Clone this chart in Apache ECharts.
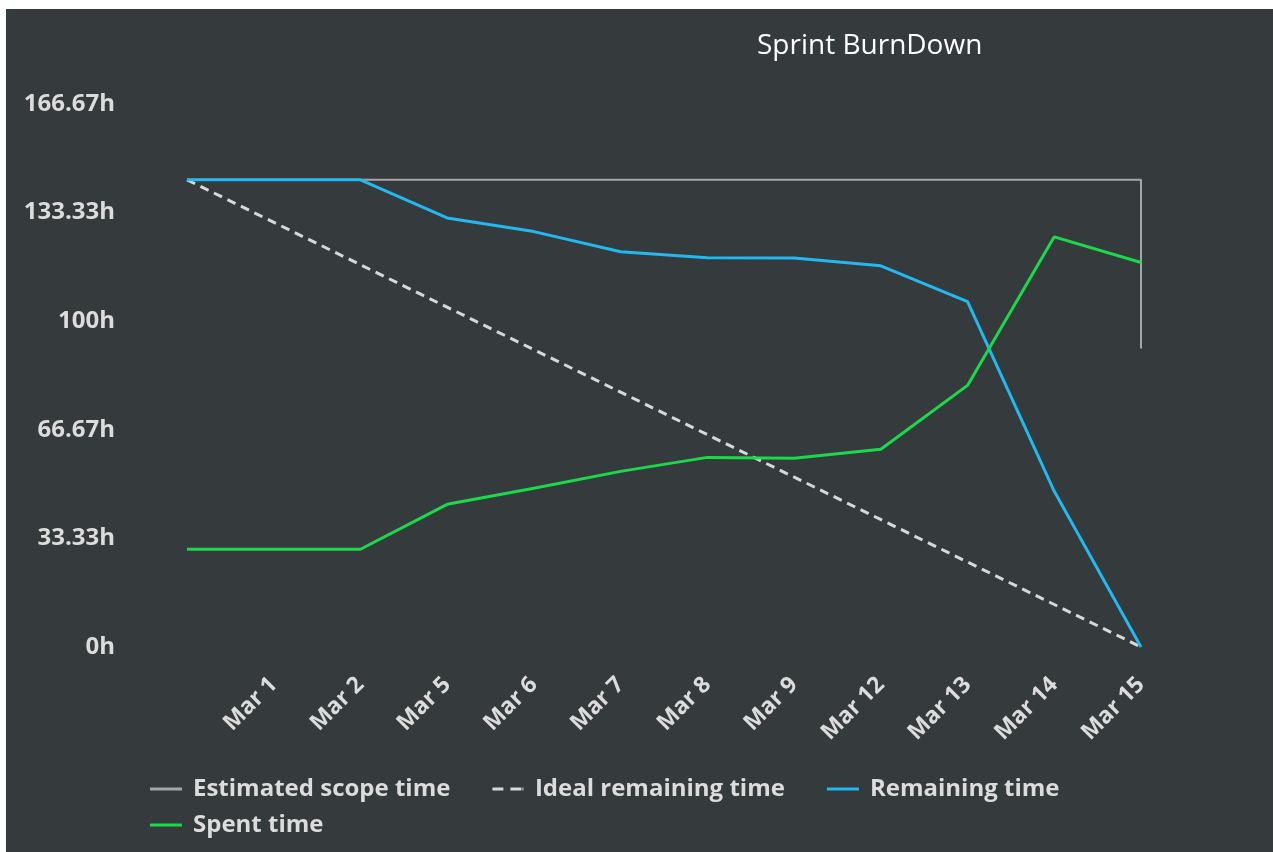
<!DOCTYPE html>
<html>
<head>
<meta charset="utf-8">
<script src="https://cdn.jsdelivr.net/npm/echarts@6/dist/echarts.min.js"></script>
<style>
  html, body { margin: 0; padding: 0; background: #ffffff; width: 1273px; height: 852px; overflow: hidden; }
  #chart { position: absolute; left: 6px; top: 9px; width: 1267px; height: 843px; }
</style>
</head>
<body>
<div id="chart"></div>
<script>
// ---- data ----
const categories = ['', 'Mar 1', 'Mar 2', 'Mar 5', 'Mar 6', 'Mar 7', 'Mar 8', 'Mar 9', 'Mar 12', 'Mar 13', 'Mar 14', 'Mar 15'];
const scopeValues = [143.4, 143.4, 143.4, 143.4, 143.4, 143.4, 143.4, 143.4, 143.4, 143.4, 143.4, 143.4];
const scopeEndValue = 91.6;
const idealStart = 143.4;
const idealEnd = 0;
const remainingValues = [143.4, 143.4, 143.4, 131.7, 127.5, 121.3, 119.5, 119.4, 117.0, 106.0, 47.8, 0];
const spentValues = [30.0, 30.0, 30.0, 43.8, 48.7, 53.9, 58.2, 57.9, 60.7, 80.3, 125.9, 118.0];
const yMax = 500 / 3;
const yStep = 100 / 3;

const chart = echarts.init(document.getElementById('chart'), null, { renderer: 'canvas' });

const scopeData = scopeValues.map((v, i) => [i, v]);
scopeData.push([categories.length - 1, scopeEndValue]);
const idealData = [[0, idealStart], [categories.length - 1, idealEnd]];
const remainingData = remainingValues.map((v, i) => [i, v]);
const spentData = spentValues.map((v, i) => [i, v]);

const FONT = '"Open Sans", "Noto Sans", sans-serif';
const LABEL = '#dcdcdc';
const SOLID_ICON = 'path://M0,0h32v3h-32z';
const DASH_ICON = 'path://M1,0h11v3h-11z M19,0h11v3h-11z M31,0h1v3h-1z';

const legendText = { color: LABEL, fontFamily: FONT, fontWeight: 'bold', fontSize: 24, padding: [0, 0, 0, 6] };

chart.setOption({
  backgroundColor: '#353a3d',
  animation: false,
  title: {
    text: 'Sprint BurnDown',
    left: 751,
    top: 23,
    padding: 0,
    textStyle: { color: '#ffffff', fontFamily: FONT, fontWeight: 'normal', fontSize: 28 }
  },
  legend: [
    {
      data: [
        { name: 'Estimated scope time', icon: SOLID_ICON },
        { name: 'Ideal remaining time', icon: DASH_ICON },
        { name: 'Remaining time', icon: SOLID_ICON }
      ],
      left: 144, top: 768, padding: 0,
      itemWidth: 32, itemHeight: 3, itemGap: 42,
      textStyle: legendText
    },
    {
      data: [{ name: 'Spent time', icon: SOLID_ICON }],
      left: 144, top: 804, padding: 0,
      itemWidth: 32, itemHeight: 3, itemGap: 42,
      textStyle: legendText
    }
  ],
  grid: { left: 181, right: 132, top: 95, bottom: 205, containLabel: false },
  xAxis: {
    type: 'value',
    min: 0, max: categories.length - 1, interval: 1,
    axisLine: { show: false }, axisTick: { show: false }, splitLine: { show: false },
    axisLabel: {
      rotate: 45, margin: 34,
      color: LABEL, fontFamily: FONT, fontWeight: 'bold', fontSize: 23,
      formatter: v => categories[Math.round(v)] || ''
    }
  },
  yAxis: {
    type: 'value',
    min: 0, max: yMax, interval: yStep,
    axisLine: { show: false }, axisTick: { show: false }, splitLine: { show: false },
    axisLabel: {
      margin: 72,
      color: LABEL, fontFamily: FONT, fontWeight: 'bold', fontSize: 24,
      formatter: v => (Math.round(v * 100) / 100) + 'h'
    }
  },
  series: [
    {
      name: 'Estimated scope time', type: 'line', data: scopeData,
      symbol: 'none', color: '#a6a6a6',
      lineStyle: { color: '#a6a6a6', width: 2 }, z: 1
    },
    {
      name: 'Ideal remaining time', type: 'line', data: idealData,
      symbol: 'none', color: '#d8d8d8',
      lineStyle: { color: '#d8d8d8', width: 3, type: [9, 6] }, z: 2
    },
    {
      name: 'Remaining time', type: 'line', data: remainingData,
      symbol: 'none', color: '#22b8f0',
      lineStyle: { color: '#22b8f0', width: 3 }, z: 3
    },
    {
      name: 'Spent time', type: 'line', data: spentData,
      symbol: 'none', color: '#1ad94a',
      lineStyle: { color: '#1ad94a', width: 3 }, z: 4
    }
  ]
});
</script>
</body>
</html>
